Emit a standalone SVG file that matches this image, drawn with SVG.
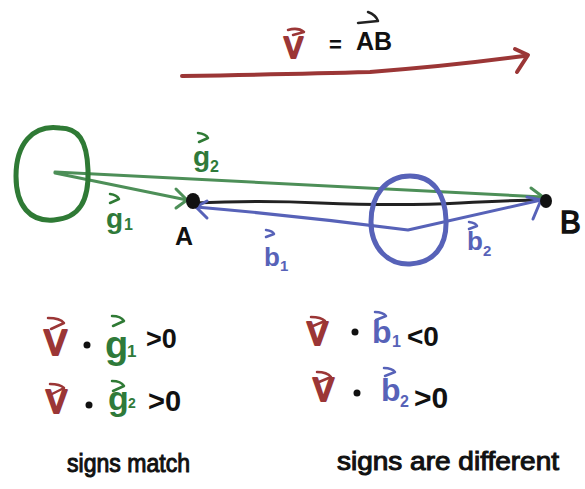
<svg xmlns="http://www.w3.org/2000/svg" width="585" height="489" viewBox="0 0 585 489">
<style>
.ln{fill:none;stroke-linecap:round;stroke-linejoin:round}
.red{stroke:#9b3636}
.grn{stroke:#4d8f58}
.gdk{stroke:#2f7a35}
.blu{stroke:#5762b8}
.blk{stroke:#222}
.t{font-family:"Liberation Sans","DejaVu Sans",sans-serif;font-weight:bold}
.n{font-weight:normal}
.tr{fill:#9b3636}.tg{fill:#2f7a3a}.tb{fill:#5762b8}.tk{fill:#111}
.vr{stroke:#9b3636;stroke-width:2;stroke-linejoin:round}
.sk{stroke:#111;stroke-width:1}
.ar{fill:none;stroke-width:2.5;stroke-linecap:round;stroke-linejoin:round}
</style>
<rect width="585" height="489" fill="#fff"/>
<g id="connectors">
<path class="ln red" stroke-width="4" d="M182 76 Q300 74 370 72 Q450 66 524 56"/>
<path class="ln red" stroke-width="4" d="M515 49 L528 55 L517 72"/>
<path class="ln grn" stroke-width="3" d="M55 173 L187 200"/>
<path class="ln grn" stroke-width="3" d="M176 189 L187 200 L176 208"/>
<path class="ln grn" stroke-width="3" d="M55 172 L543 197"/>
<path class="ln grn" stroke-width="3" d="M531 188 L543 197"/>
<path class="ln blk" stroke-width="3" d="M193 203 Q260 200 320 203 Q400 206 460 203 Q510 200 547 200"/>
<path class="ln blu" stroke-width="3" d="M196 207 Q300 216 408 230 L541 200"/>
<path class="ln blu" stroke-width="3" d="M207 201 L196 207 L207 218"/>
<path class="ln blu" stroke-width="3" d="M527 197 L541 200 L533 219"/>
</g>
<g id="node-green-circle">
<path class="ln gdk" stroke-width="5" d="M60 128 C32 124 16 145 16 176 C16 206 30 222 54 220 C80 218 89 200 88 170 C87 140 78 128 60 128 Z"/>
</g>
<g id="node-blue-circle">
<path class="ln blu" stroke-width="5" d="M410 176 C386 176 371 195 371 222 C371 248 388 265 410 264 C434 263 447 246 446 220 C445 192 432 176 410 176 Z"/>
</g>
<g id="node-A">
<ellipse cx="193" cy="201" rx="7" ry="8" fill="#111"/>
<text class="t tk" x="175" y="245" font-size="25">A</text>
</g>
<g id="node-B">
<ellipse cx="546" cy="201" rx="6" ry="7" fill="#111"/>
<text class="t n tk sk" x="560" y="233" font-size="31" style="stroke-width:1.5">B</text>
</g>
<g id="title">
<text class="t n tr vr" x="284" y="58" font-size="38">v</text>
<path class="ar red" d="M288 30 Q298 27 304 32 L293 35" stroke-width="3"/>
<text class="t tk" x="329" y="52" font-size="22">=</text>
<text class="t tk" x="356" y="50" font-size="25">AB</text>
<path class="ar blk" d="M358 23 L378 21 M368 12 Q376 15 378 21"/>
</g>
<g id="labels">
<text class="t tg" x="193" y="166" font-size="28">g</text><text class="t tg" x="210" y="172" font-size="16">2</text>
<path class="ar gdk" d="M198 133 Q206 134 208 138 L199 142"/>
<text class="t tg" x="106" y="228" font-size="28">g</text><text class="t tg" x="124" y="230" font-size="16">1</text>
<path class="ar gdk" d="M110 194 Q117 195 119 199 L110 203"/>
<text class="t tb" x="264" y="266" font-size="26">b</text><text class="t tb" x="280" y="271" font-size="15">1</text>
<path class="ar blu" d="M266 230 Q273 231 274 234 L266 237"/>
<text class="t tb" x="467" y="250" font-size="26">b</text><text class="t tb" x="483" y="256" font-size="15">2</text>
<path class="ar blu" d="M469 222 Q476 223 477 226 L469 229"/>
</g>
<g id="eq-left">
<text class="t n tr vr" x="44" y="355" font-size="46">v</text>
<path class="ar red" d="M48 318 Q60 318 64 323 L51 329" stroke-width="4"/>
<circle cx="87" cy="345" r="3.5" fill="#111"/>
<text class="t tg" x="105" y="358" font-size="38">g</text><text class="t tg" x="127" y="357" font-size="17">1</text>
<path class="ar gdk" d="M112 316 Q121 316 124 321 L113 326" stroke-width="3.5"/>
<text class="t tk" x="146" y="348" font-size="27">&gt;0</text>
<text class="t n tr vr" x="46" y="413" font-size="42">v</text>
<path class="ar red" d="M50 384 Q60 384 64 388 L52 394" stroke-width="4"/>
<circle cx="89" cy="405" r="3.5" fill="#111"/>
<text class="t tg" x="108" y="410" font-size="34">g</text><text class="t tg" x="128" y="408" font-size="14">2</text>
<path class="ar gdk" d="M112 381 Q121 381 124 386 L113 391" stroke-width="3.5"/>
<text class="t tk" x="148" y="411" font-size="29">&gt;0</text>
<text class="t n tk sk" x="67" y="472" font-size="25" textLength="123" lengthAdjust="spacingAndGlyphs">signs match</text>
</g>
<g id="eq-right">
<text class="t n tr vr" x="307" y="345" font-size="42">v</text>
<path class="ar red" d="M311 317 Q321 317 325 321 L313 326" stroke-width="4"/>
<circle cx="355" cy="332" r="3.5" fill="#111"/>
<text class="t tb" x="372" y="343" font-size="32">b</text><text class="t tb" x="392" y="347" font-size="16">1</text>
<path class="ar blu" d="M375 312 Q383 312 386 316 L376 320" stroke-width="3.5"/>
<text class="t tk" x="407" y="346" font-size="28">&lt;0</text>
<text class="t n tr vr" x="313" y="401" font-size="42">v</text>
<path class="ar red" d="M317 372 Q327 372 331 377 L319 382" stroke-width="4"/>
<circle cx="357" cy="393" r="3.5" fill="#111"/>
<text class="t tb" x="381" y="401" font-size="32">b</text><text class="t tb" x="400" y="407" font-size="16">2</text>
<path class="ar blu" d="M384 368 Q392 368 395 372 L385 376" stroke-width="3.5"/>
<text class="t tk" x="414" y="408" font-size="30">&gt;0</text>
<text class="t n tk sk" x="337" y="470" font-size="25" textLength="222" lengthAdjust="spacingAndGlyphs">signs are different</text>
</g>
</svg>
